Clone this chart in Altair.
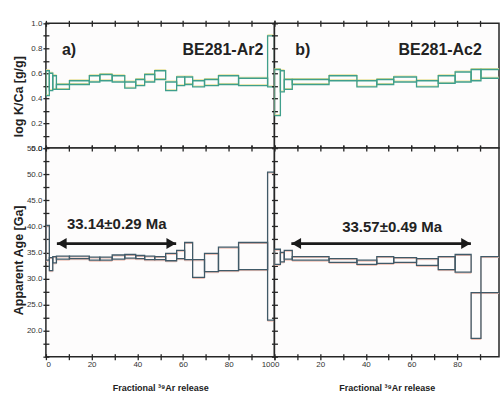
import altair as alt
import pandas as pd

FONT = "Liberation Sans, Arial, sans-serif"
INK = "#262626"

# ---- step-heating results ----------------------------------------------
# cumulative % of 39Ar released at each step boundary
a_edges = [0, 1.5, 3.0, 4.6, 10.3, 19.0, 23.6, 29.0, 34.5, 39.3, 43.2,
           47.6, 52.4, 57.2, 60.7, 64.2, 69.4, 75.5, 84.3, 97.0, 100]
a_kca_lo = [0.42, 0.46, 0.47, 0.47, 0.51, 0.53, 0.54, 0.53, 0.48, 0.50,
            0.53, 0.55, 0.46, 0.50, 0.51, 0.49, 0.50, 0.51, 0.50, 0.49]
a_kca_hi = [0.62, 0.60, 0.58, 0.51, 0.54, 0.58, 0.59, 0.58, 0.53, 0.55,
            0.59, 0.62, 0.53, 0.57, 0.57, 0.54, 0.55, 0.58, 0.56, 0.90]
a_age_lo = [33.5, 31.5, 33.0, 33.7, 33.8, 33.5, 33.5, 33.7, 33.9, 33.8,
            33.6, 33.6, 33.4, 33.8, 33.6, 30.2, 31.3, 31.5, 31.7, 22.0]
a_age_hi = [40.2, 34.0, 34.2, 34.3, 34.3, 34.1, 34.1, 34.5, 34.6, 34.4,
            34.3, 34.2, 34.8, 35.4, 36.9, 33.6, 34.8, 36.0, 36.9, 50.4]

b_edges = [0, 2.6, 4.3, 7.8, 23.9, 36.1, 44.8, 52.2, 62.2, 71.7, 79.1,
           86.1, 90.4, 100]
b_kca_lo = [0.26, 0.45, 0.47, 0.51, 0.54, 0.49, 0.51, 0.53, 0.49, 0.52,
            0.53, 0.54, 0.56]
b_kca_hi = [0.63, 0.62, 0.55, 0.55, 0.58, 0.54, 0.55, 0.57, 0.54, 0.58,
            0.61, 0.63, 0.63]
b_age_lo = [32.7, 33.2, 33.7, 33.5, 33.1, 32.7, 32.9, 33.1, 32.5, 31.7,
            31.2, 18.5, 27.3]
b_age_hi = [35.6, 35.0, 35.4, 34.2, 33.8, 33.5, 34.2, 34.0, 33.8, 34.2,
            34.6, 27.3, 34.2]

# plateau ages
plateau_x0 = [4.8, 7.4]
plateau_x1 = [57.0, 86.0]
plateau_y = [36.7, 36.7]
plateau_label = ["33.14±0.29 Ma", "33.57±0.49 Ma"]
plateau_label_x = [31.0, 51.5]
plateau_label_y = [40.4, 39.8]

# sample tags
tag_x = [[7.0, 59.8], [9.1, 54.3]]
tag_y = 0.79
tag_text = [["a)", "BE281-Ar2"], ["b)", "BE281-Ac2"]]

x_ticks = [0, 10, 20, 30, 40, 50, 60, 70, 80, 90, 100]
kca_ticks = [0.0, 0.1, 0.2, 0.3, 0.4, 0.5, 0.6, 0.7, 0.8, 0.9, 1.0]
age_ticks = [15, 17.5, 20, 22.5, 25, 27.5, 30, 32.5, 35, 37.5, 40,
             42.5, 45, 47.5, 50, 52.5, 55]

W_A, W_B = 229, 225
H_TOP, H_BOT = 125, 209
X_DOM_A = [0, 100]
X_DOM_B = [0, 98.3]

TICK = dict(domain=False, tickSize=6, offset=-3, grid=False,
            labelFont=FONT, labelFontSize=8, labelColor="#333333",
            titleFont=FONT, titleColor="#222222", titleFontWeight="bold")


def steps(edges, lo, hi):
    return pd.DataFrame({"x0": edges[:-1], "x1": edges[1:], "lo": lo, "hi": hi})


def panel(df, xdom, ydom, width, height, color, fringe, dx, dy,
          x_axis, y_axis, extra=()):
    xs = alt.Scale(domain=xdom, nice=False, zero=False)
    ys = alt.Scale(domain=ydom, nice=False, zero=False)
    top_axis = alt.Axis(orient="top", values=x_ticks, labels=False,
                        title=None, **TICK)
    # coloured halo under each step box; it also carries the top axis
    halo = alt.Chart(df).mark_rect(
        fillOpacity=0, stroke=fringe, strokeWidth=1.0, clip=True,
        xOffset=dx, x2Offset=dx, yOffset=dy, y2Offset=dy,
    ).encode(
        x=alt.X("x0:Q", scale=xs, axis=top_axis), x2="x1",
        y=alt.Y("lo:Q", scale=ys, axis=y_axis), y2="hi",
    )
    boxes = alt.Chart(df).mark_rect(
        fillOpacity=0, stroke=color, strokeWidth=1.3, clip=True,
    ).encode(
        x=alt.X("x0:Q", scale=xs, axis=x_axis), x2="x1",
        y=alt.Y("lo:Q", scale=ys, axis=y_axis), y2="hi",
    )
    layers = [halo, boxes] + [e(xs, ys, y_axis) for e in extra]
    return alt.layer(*layers).properties(width=width, height=height)


def tags(i):
    df = pd.DataFrame({"x": tag_x[i], "y": [tag_y, tag_y], "t": tag_text[i]})

    def make(xs, ys, yax):
        return alt.Chart(df).mark_text(
            align="left", baseline="middle", font=FONT, fontSize=16,
            fontWeight="bold", color="#222222",
        ).encode(
            x=alt.X("x:Q", scale=xs, axis=None),
            y=alt.Y("y:Q", scale=ys, axis=yax),
            text="t:N",
        )
    return make


def plateau(i):
    df = pd.DataFrame({"x0": [plateau_x0[i]], "x1": [plateau_x1[i]],
                       "y": [plateau_y[i]], "lx": [plateau_label_x[i]],
                       "ly": [plateau_label_y[i]], "t": [plateau_label[i]]})

    def line(xs, ys, yax):
        return alt.Chart(df).mark_rule(color="#1a1a1a", strokeWidth=2.8).encode(
            x=alt.X("x0:Q", scale=xs, axis=None), x2="x1",
            y=alt.Y("y:Q", scale=ys, axis=yax),
        )

    def head_l(xs, ys, yax):
        return alt.Chart(df).mark_point(
            shape="triangle-left", filled=True, size=120, opacity=1,
            color="#1a1a1a", xOffset=5,
        ).encode(
            x=alt.X("x0:Q", scale=xs, axis=None),
            y=alt.Y("y:Q", scale=ys, axis=yax),
        )

    def head_r(xs, ys, yax):
        return alt.Chart(df).mark_point(
            shape="triangle-right", filled=True, size=120, opacity=1,
            color="#1a1a1a", xOffset=-5,
        ).encode(
            x=alt.X("x1:Q", scale=xs, axis=None),
            y=alt.Y("y:Q", scale=ys, axis=yax),
        )

    def label(xs, ys, yax):
        return alt.Chart(df).mark_text(
            align="center", baseline="middle", font=FONT, fontSize=15,
            fontWeight="bold", color="#222222",
        ).encode(
            x=alt.X("lx:Q", scale=xs, axis=None),
            y=alt.Y("ly:Q", scale=ys, axis=yax),
            text="t:N",
        )
    return [line, head_l, head_r, label]


# ---- axes ---------------------------------------------------------------
x_plain = alt.Axis(orient="bottom", values=x_ticks, labels=False, title=None, **TICK)
x_labeled = alt.Axis(
    orient="bottom", values=x_ticks, format="d",
    labelExpr="datum.value % 20 === 0 ? datum.label : ''",
    labelPadding=1, title="Fractional ³⁹Ar release", titleFontSize=9,
    titlePadding=15, **TICK)

kca_left = alt.Axis(
    orient="left", values=kca_ticks, format=".1f",
    labelExpr="round(datum.value * 10) % 2 === 0 ? datum.label : ''",
    labelPadding=1, title="log K/Ca [g/g]", titleFontSize=12.5,
    titleX=-30, titleY=73, titleBaseline="middle", titleAlign="center",
    titleAngle=270, **TICK)
kca_plain = alt.Axis(orient="left", values=kca_ticks, labels=False, title=None, **TICK)

age_left = alt.Axis(
    orient="left", values=age_ticks, format=".1f",
    labelExpr="datum.value % 5 === 0 && datum.value >= 20 ? datum.label : ''",
    labelPadding=1, title="Apparent Age [Ga]", titleFontSize=12.5,
    titleX=-30, titleY=112, titleBaseline="middle", titleAlign="center",
    titleAngle=270, **TICK)
age_plain = alt.Axis(orient="left", values=age_ticks, labels=False, title=None, **TICK)

TEAL, YELLOW = "#3f9f8c", "#e6e09a"
SLATE, SALMON = "#405a68", "#ecbcb0"

a_top = panel(steps(a_edges, a_kca_lo, a_kca_hi), X_DOM_A, [0, 1], W_A, H_TOP,
              TEAL, YELLOW, 0, -1, x_plain, kca_left, [tags(0)])
b_top = panel(steps(b_edges, b_kca_lo, b_kca_hi), X_DOM_B, [0, 1], W_B, H_TOP,
              TEAL, YELLOW, 0, -1, x_plain, kca_plain, [tags(1)])
a_bot = panel(steps(a_edges, a_age_lo, a_age_hi), X_DOM_A, [15, 55], W_A, H_BOT,
              SLATE, SALMON, 0, 1, x_labeled, age_left, plateau(0))
b_bot = panel(steps(b_edges, b_age_lo, b_age_hi), X_DOM_B, [15, 55], W_B, H_BOT,
              SLATE, SALMON, 0, 1, x_labeled, age_plain, plateau(1))

chart = alt.concat(
    a_top, b_top, a_bot, b_bot, columns=2, spacing=0, bounds="flush", align="each",
).properties(
    padding={"left": 12, "top": 18, "right": 0, "bottom": 2},
    background="white",
).configure_view(
    stroke=INK, strokeWidth=1.5, fill="#fdfcfc",
).configure_axis(
    tickColor=INK, tickWidth=1.3,
)

chart.save("out.html", embed_options={"renderer": "svg", "actions": False})
